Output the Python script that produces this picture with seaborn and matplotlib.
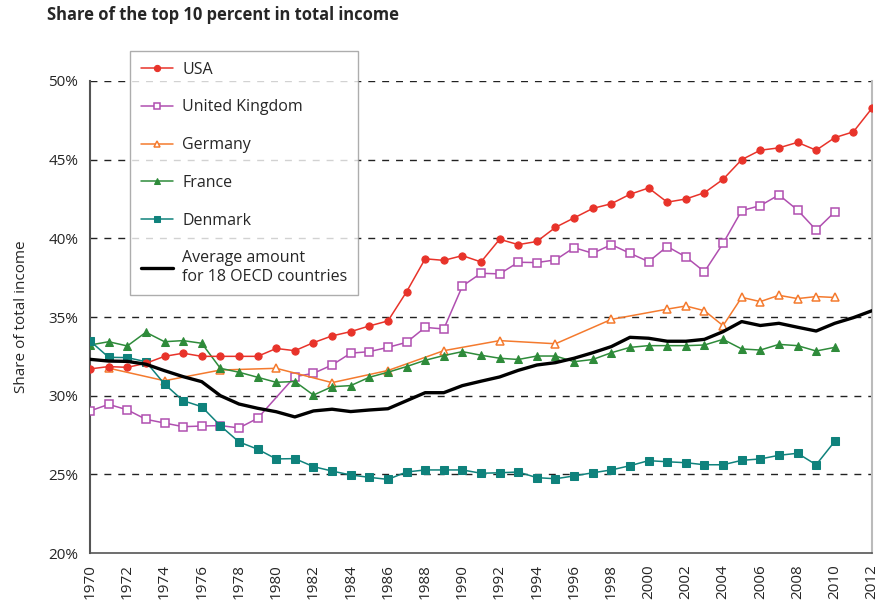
import numpy as np
import pandas as pd
import matplotlib.pyplot as plt
import seaborn as sns

sns.set_theme(style='white')
plt.rcParams['font.family'] = ['Open Sans', 'DejaVu Sans']

years = list(range(1970, 2013))

# values (percent)
usa = [31.7, 31.85, 31.8, 32.06, 32.5, 32.7, 32.5, 32.5, 32.5, 32.5, 33.0, 32.86,
       33.37, 33.8, 34.07, 34.43, 34.75, 36.6, 38.7, 38.6, 38.9, 38.5, 39.94,
       39.6, 39.8, 40.7, 41.3, 41.9, 42.2, 42.8, 43.2, 42.3, 42.5, 42.9, 43.75,
       45.0, 45.6, 45.75, 46.1, 45.6, 46.4, 46.77, 48.27]

uk_years = [1970, 1971, 1972, 1973, 1974, 1975, 1976, 1977, 1978, 1979] + list(range(1981, 2011))
uk = [29.03, 29.45, 29.1, 28.5, 28.26, 28.03, 28.07, 28.1, 27.95, 28.56,
      31.21, 31.42, 31.95, 32.7, 32.8, 33.07, 33.39, 34.34, 34.24, 36.97,
      37.78, 37.74, 38.48, 38.46, 38.63, 39.41, 39.05, 39.6, 39.05, 38.52,
      39.48, 38.82, 37.88, 39.68, 41.76, 42.08, 42.76, 41.8, 40.53, 41.68]

de_years = [1971, 1974, 1977, 1980, 1983, 1986, 1989, 1992, 1995, 1998, 2001,
            2002, 2003, 2004, 2005, 2006, 2007, 2008, 2009, 2010]
germany = [31.75, 30.95, 31.63, 31.74, 30.83, 31.6, 32.86, 33.5, 33.3, 34.85, 35.5,
           35.7, 35.4, 34.45, 36.25, 35.98, 36.38, 36.17, 36.3, 36.24]

fr_years = list(range(1970, 2011))
france = [33.22, 33.43, 33.16, 34.03, 33.43, 33.5, 33.33, 31.74, 31.49, 31.17, 30.85,
          30.9, 30.04, 30.57, 30.64, 31.17, 31.49, 31.85, 32.25, 32.55, 32.8,
          32.57, 32.38, 32.3, 32.52, 32.52, 32.16, 32.3, 32.73, 33.07, 33.18,
          33.18, 33.18, 33.22, 33.58, 32.97, 32.9, 33.26, 33.18, 32.84, 33.07]

dk_years = list(range(1970, 2011))
denmark = [33.48, 32.44, 32.42, 32.16, 30.74, 29.68, 29.3, 28.09, 27.06, 26.6, 25.98,
           26.0, 25.49, 25.21, 24.96, 24.81, 24.68, 25.15, 25.28, 25.28, 25.28,
           25.07, 25.1, 25.15, 24.79, 24.72, 24.9, 25.1, 25.28, 25.55, 25.87,
           25.8, 25.74, 25.61, 25.61, 25.89, 25.98, 26.21, 26.34, 25.61, 27.1]

average = [32.31, 32.2, 32.18, 32.0, 31.59, 31.21, 30.89, 30.0, 29.47, 29.2, 28.98,
           28.65, 29.03, 29.14, 28.99, 29.09, 29.17, 29.68, 30.19, 30.19, 30.64,
           30.92, 31.19, 31.61, 31.95, 32.1, 32.38, 32.73, 33.12, 33.71, 33.65,
           33.46, 33.46, 33.58, 34.07, 34.71, 34.46, 34.6, 34.35, 34.11, 34.6,
           34.96, 35.4]

fig = plt.figure(figsize=(8.87, 6.04), dpi=100)
ax = fig.add_axes([0.1015, 0.0844, 0.8816, 0.7815])

# dashed grid first so lines sit on top
for v in [25, 30, 35, 40, 45, 50]:
    ax.axhline(v, color='#222222', lw=1.0, ls=(0, (5, 5)), zorder=1)

sns.lineplot(x=years, y=usa, ax=ax, color='#e8332a', lw=1.1, marker='o', ms=5.2,
             mec='#e8332a', label='USA', zorder=5)
sns.lineplot(x=uk_years, y=uk, ax=ax, color='#b04fb0', lw=1.1, marker='s', ms=5.2,
             mfc='white', mec='#b04fb0', mew=1.1, label='United Kingdom', zorder=4)
sns.lineplot(x=de_years, y=germany, ax=ax, color='#f47a2e', lw=1.1, marker='^', ms=6.3,
             mfc='white', mec='#f47a2e', mew=1.1, label='Germany', zorder=4)
sns.lineplot(x=fr_years, y=france, ax=ax, color='#2e8b3a', lw=1.1, marker='^', ms=6.3,
             mec='#2e8b3a', label='France', zorder=4)
sns.lineplot(x=dk_years, y=denmark, ax=ax, color='#0f827c', lw=1.1, marker='s', ms=5.2,
             mec='#0f827c', label='Denmark', zorder=4)
sns.lineplot(x=years, y=average, ax=ax, color='black', lw=2.4,
             label='Average amount\nfor 18 OECD countries', zorder=6)

ax.set_xlim(1970, 2012)
ax.set_ylim(20, 50)
ax.set_xticks(range(1970, 2013, 2))
ax.set_xticklabels([str(y) for y in range(1970, 2013, 2)], rotation=90, fontsize=11)
ax.set_yticks([20, 25, 30, 35, 40, 45, 50])
ax.set_yticklabels(['20%', '25%', '30%', '35%', '40%', '45%', '50%'], fontsize=11)
ax.tick_params(axis='y', direction='inout', length=9, width=1, color='#555555', pad=4)
ax.tick_params(axis='x', direction='out', length=5, width=1, color='#555555', pad=3)
ax.set_ylabel('Share of total income', fontsize=11, labelpad=14)
ax.set_xlabel('')

ax.spines['top'].set_visible(False)
ax.spines['left'].set_color('#555555')
ax.spines['left'].set_linewidth(1.5)
ax.spines['bottom'].set_color('#555555')
ax.spines['bottom'].set_linewidth(1.2)
ax.spines['right'].set_color('#bbbbbb')
ax.spines['right'].set_linewidth(1.5)

ax.get_legend().remove()
h, l = ax.get_legend_handles_labels()
leg = fig.legend(h, l, loc='upper left', bbox_to_anchor=(0.147, 0.915),
                 fontsize=11.5, frameon=True, fancybox=False, edgecolor='#999999',
                 labelspacing=1.36, handlelength=2.0, handletextpad=0.6,
                 borderpad=0.65, borderaxespad=0)
leg.get_frame().set_linewidth(1.0)
for lh in leg.legend_handles:
    lh.set_markersize(4.5)

fig.text(0.053, 0.99, 'Share of the top 10 percent in total income', fontsize=11.9,
         fontweight='bold', va='top', ha='left')

fig.savefig('out.png', dpi=100)
